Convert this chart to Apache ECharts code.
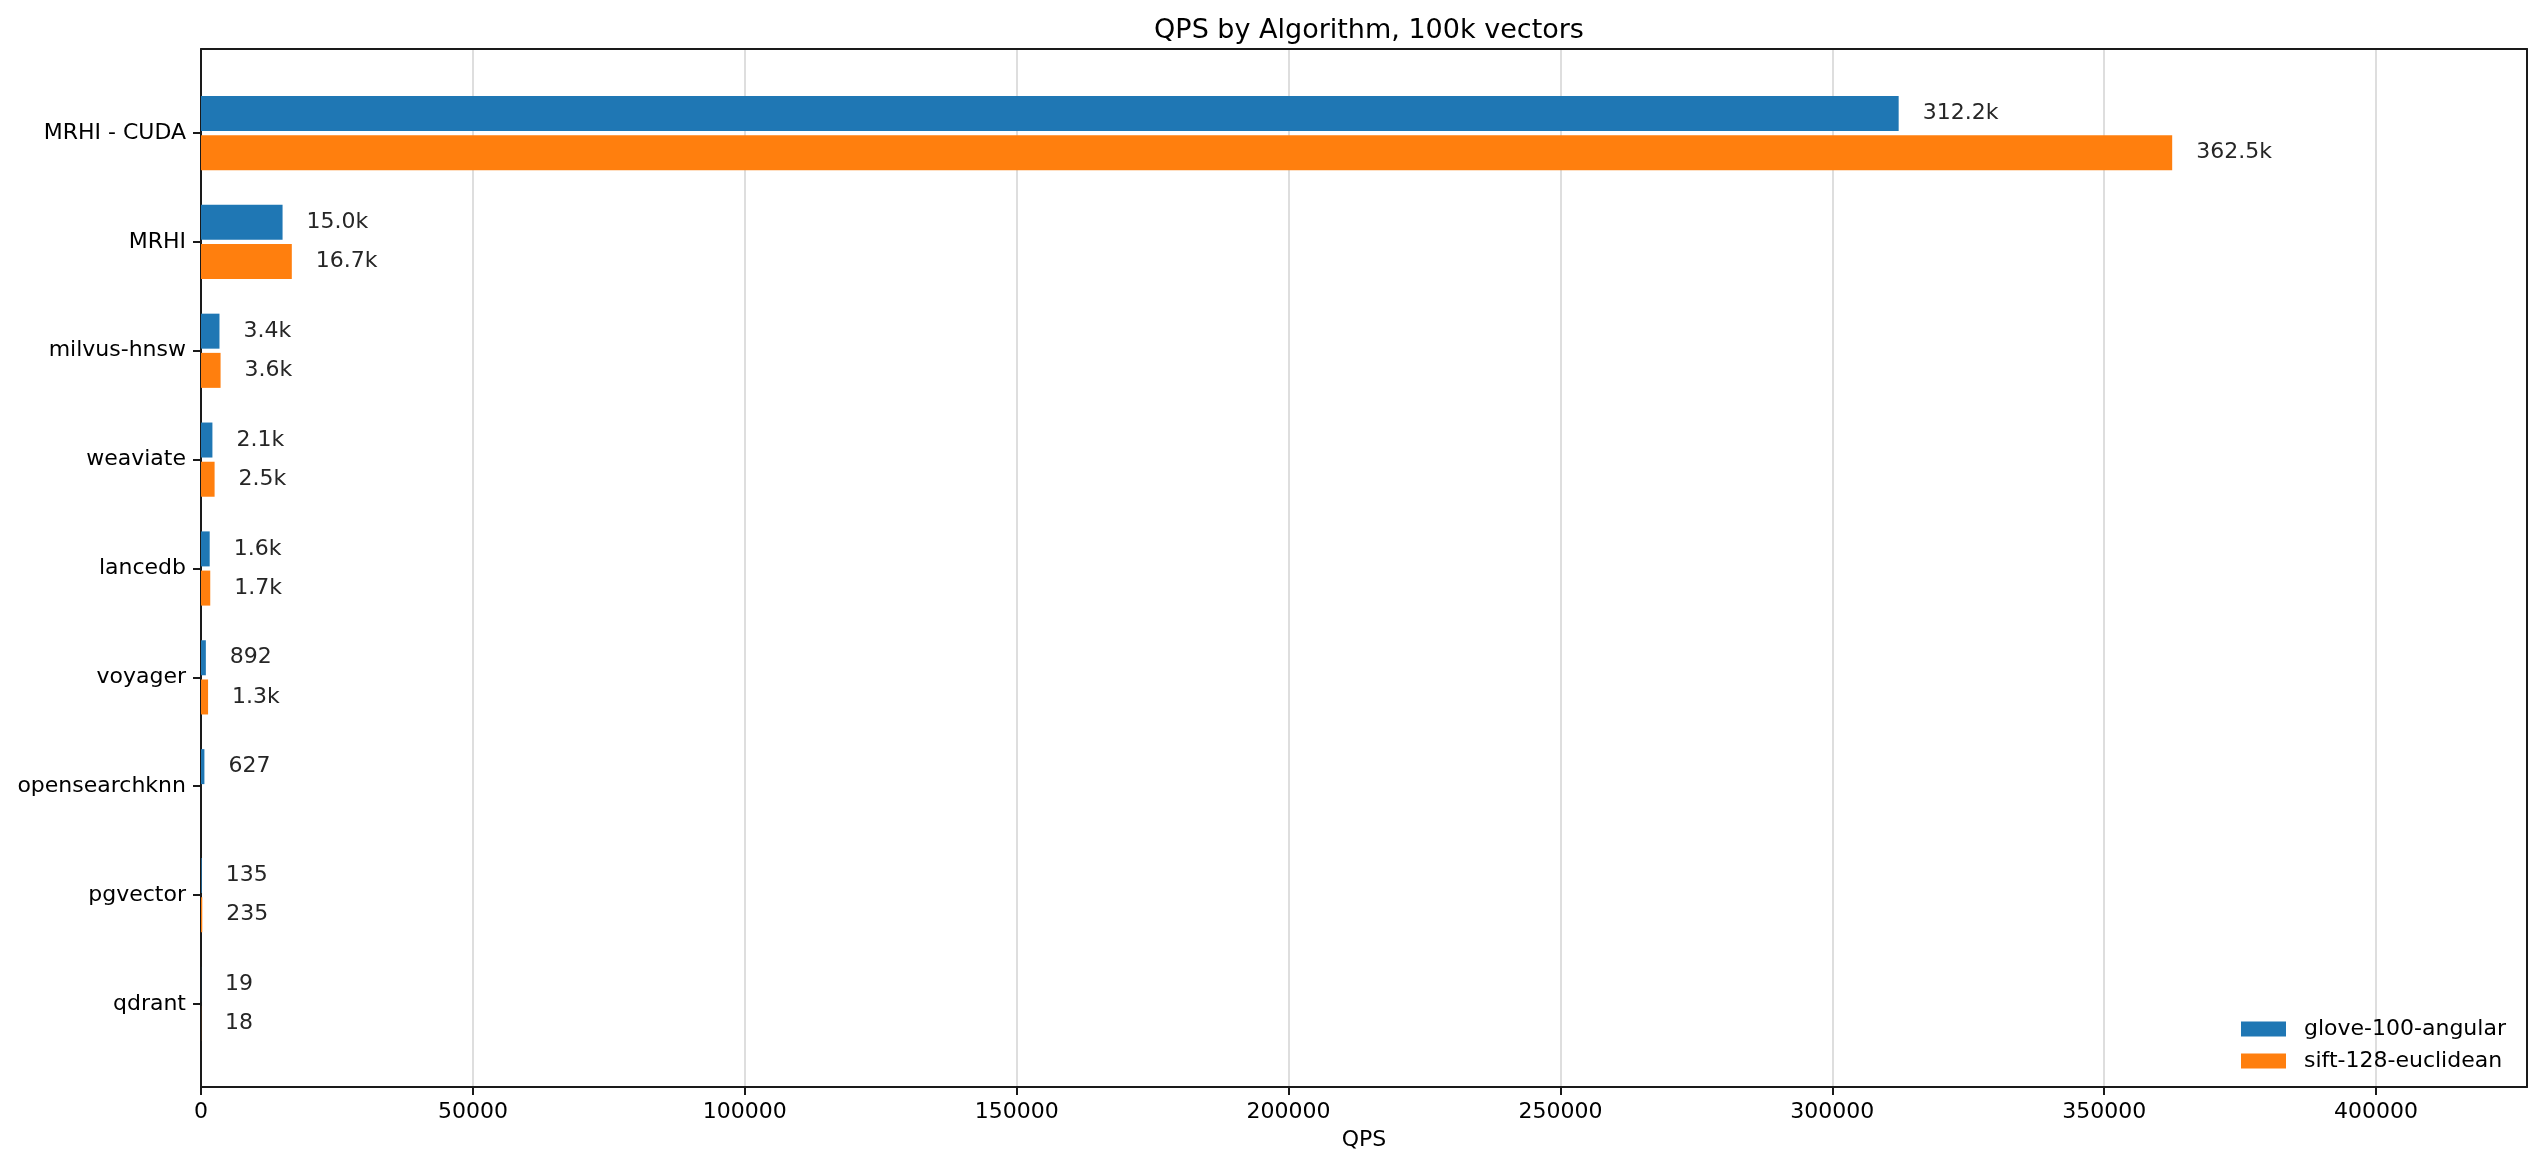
<!DOCTYPE html>
<html>
<head>
<meta charset="utf-8">
<script src="https://cdn.jsdelivr.net/npm/echarts@6/dist/echarts.min.js"></script>
<style>
  html, body { margin: 0; padding: 0; background: #fff; }
  #main { width: 2544px; height: 1168px; }
</style>
</head>
<body>
<div id="main"></div>
<script>
var algorithms = ['MRHI - CUDA', 'MRHI', 'milvus-hnsw', 'weaviate', 'lancedb', 'voyager', 'opensearchknn', 'pgvector', 'qdrant'];
var gloveQps = [312200, 15000, 3400, 2100, 1600, 892, 627, 135, 19];
var siftQps = [362500, 16700, 3600, 2500, 1700, 1300, null, 235, 18];
var seriesNames = ['glove-100-angular', 'sift-128-euclidean'];
var xMax = 427750;
var xStep = 50000;

var FONT = 'DejaVu Sans';
var SPINE = { show: true, onZero: false, lineStyle: { color: '#1a1a1a', width: 2 } };
var myChart = echarts.init(document.getElementById('main'));

function fmt(p) {
    var v = p.value;
    if (v == null) return '';
    return v >= 1000 ? (v / 1000).toFixed(1) + 'k' : String(v);
}

var barLabel = {
    show: true,
    position: 'right',
    distance: 24,
    color: '#262626',
    fontFamily: FONT,
    fontSize: 22,
    padding: [3, 0, 0, 0],
    formatter: fmt
};

option = {
    animation: false,
    backgroundColor: '#fff',
    title: {
        text: 'QPS by Algorithm, 100k vectors',
        left: 1364,
        top: 12,
        textAlign: 'center',
        textStyle: { fontFamily: FONT, fontSize: 27, fontWeight: 'normal', color: '#000' }
    },
    legend: {
        orient: 'vertical',
        left: 2236,
        top: 1011,
        itemWidth: 45,
        itemHeight: 15,
        itemGap: 6,
        icon: 'rect',
        data: seriesNames,
        textStyle: { fontFamily: FONT, fontSize: 22, color: '#000', lineHeight: 26, padding: [0, 0, 0, 13] }
    },
    grid: [
        // frame + x axis
        { left: 201, right: 17, top: 49, bottom: 81 },
        // bars
        { left: 201, right: 17, top: 78.6, bottom: 109.6 }
    ],
    xAxis: [
        {
            gridIndex: 0,
            type: 'value',
            position: 'bottom',
            min: 0,
            max: xMax,
            interval: xStep,
            name: 'QPS',
            nameLocation: 'middle',
            nameGap: 42,
            nameTextStyle: { fontFamily: FONT, fontSize: 22, color: '#000' },
            axisLine: SPINE,
            axisTick: { show: true, length: 8, lineStyle: { color: '#1a1a1a', width: 2 } },
            axisLabel: { margin: 14, fontFamily: FONT, fontSize: 22, color: '#000', showMaxLabel: false, formatter: function (v) { return String(v); } },
            splitLine: { show: true, lineStyle: { color: '#dedede', width: 2 } }
        },
        {
            gridIndex: 0,
            type: 'value',
            position: 'top',
            min: 0,
            max: xMax,
            axisLine: SPINE,
            axisTick: { show: false },
            axisLabel: { show: false },
            splitLine: { show: false }
        },
        {
            gridIndex: 1,
            type: 'value',
            min: 0,
            max: xMax,
            show: false,
            splitLine: { show: false }
        }
    ],
    yAxis: [
        { gridIndex: 0, type: 'value', position: 'left', axisLine: SPINE, axisTick: { show: false }, axisLabel: { show: false }, splitLine: { show: false } },
        { gridIndex: 0, type: 'value', position: 'right', axisLine: SPINE, axisTick: { show: false }, axisLabel: { show: false }, splitLine: { show: false } },
        {
            gridIndex: 1,
            type: 'category',
            inverse: true,
            data: algorithms,
            axisLine: { show: false },
            axisTick: { show: true, alignWithLabel: true, length: 8, lineStyle: { color: '#1a1a1a', width: 2 } },
            axisLabel: { margin: 15, fontFamily: FONT, fontSize: 22, color: '#000', padding: [5, 0, 0, 0] }
        }
    ],
    series: [
        {
            name: seriesNames[0],
            type: 'bar',
            xAxisIndex: 2,
            yAxisIndex: 2,
            data: gloveQps,
            barWidth: 35,
            barGap: '12%',
            itemStyle: { color: '#1f77b4' },
            label: barLabel
        },
        {
            name: seriesNames[1],
            type: 'bar',
            xAxisIndex: 2,
            yAxisIndex: 2,
            data: siftQps,
            barWidth: 35,
            barGap: '12%',
            itemStyle: { color: '#ff7f0e' },
            label: barLabel
        }
    ]
};
myChart.setOption(option);
</script>
</body>
</html>
